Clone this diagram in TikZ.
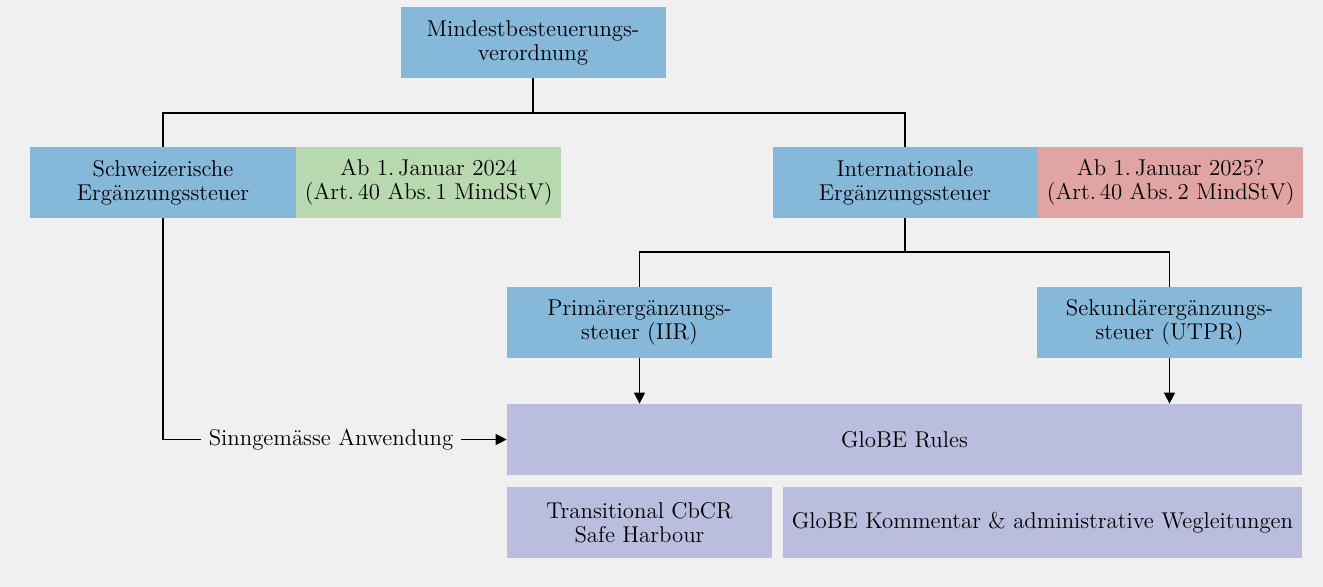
\documentclass[tikz,border=0pt]{standalone}
\usepackage{xcolor}
\usetikzlibrary{arrows.meta, positioning}

\definecolor{bgGray}{HTML}{EFF0EF}
\definecolor{taxBlue}{HTML}{86B8DA}
\definecolor{dateGreen}{HTML}{B8D8B0}
\definecolor{dateRed}{HTML}{E0A4A2}
\definecolor{rulesLila}{HTML}{BBBDDE}

\begin{document}
\begin{tikzpicture}[x=0.2mm, y=-0.2mm, >={Triangle[length=2.2mm, width=2.2mm]},
  box/.style={rectangle, inner sep=0pt, align=center, minimum width=53mm,
    minimum height=14.2mm, font=\fontsize{13}{13.7}\selectfont},
  taxbox/.style={box, fill=taxBlue},
  link/.style={line width=0.7pt}]

  % Background
  \fill[bgGray] (0,0) rectangle (1323,587);

  % Node positions
  \node[taxbox] (MindStV) at (533,42.5)  {Mindestbesteuerungs-\\verordnung};
  \node[taxbox] (CH)      at (163,182.5) {Schweizerische\\Ergänzungssteuer};
  \node[box, fill=dateGreen, right=0pt of CH] (CHdate) {Ab 1.\,Januar 2024\\(Art.\,40 Abs.\,1 MindStV)};
  \node[taxbox] (INT)     at (905,182.5) {Internationale\\Ergänzungssteuer};
  \node[box, fill=dateRed, right=0pt of INT] (INTdate) {Ab 1.\,Januar 2025?\\(Art.\,40 Abs.\,2 MindStV)};
  \node[taxbox] (IIR)     at (639.5,322.5)  {Primärergänzungs-\\steuer (IIR)};
  \node[taxbox] (UTPR)    at (1169.5,322.5) {Sekundärergänzungs-\\steuer (UTPR)};
  \node[box, fill=rulesLila, minimum width=159mm] (GloBE) at (904.5,439.5) {GloBE Rules};
  \node[box, fill=rulesLila] (CbCR) at (639.5,522.5) {Transitional CbCR\\Safe Harbour};
  \node[box, fill=rulesLila, minimum width=103.8mm] (Komm) at (1042.5,522.5)
    {GloBE Kommentar \& administrative Wegleitungen};
  \node[font=\fontsize{13}{13.7}\selectfont, inner sep=1.5mm] (Sinn) at (331,439.5) {Sinngemässe Anwendung};

  % Tree lines
  \coordinate (split1) at (533,113);
  \coordinate (split2) at (905,252);
  \draw[link] (MindStV) -- (split1);
  \draw[link] (CH.north) |- (split1) -| (INT.north);
  \draw[link] (INT) -- (split2);
  \draw[link] (IIR.north) |- (split2) -| (UTPR.north);

  % Arrows into the rules
  \draw[link, ->] (IIR) -- (IIR |- GloBE.north);
  \draw[link, ->] (UTPR) -- (UTPR |- GloBE.north);
  \draw[link] (CH.south) |- (Sinn.west);
  \draw[link, ->] (Sinn.east) -- (Sinn.east -| GloBE.west);

\end{tikzpicture}
\end{document}
